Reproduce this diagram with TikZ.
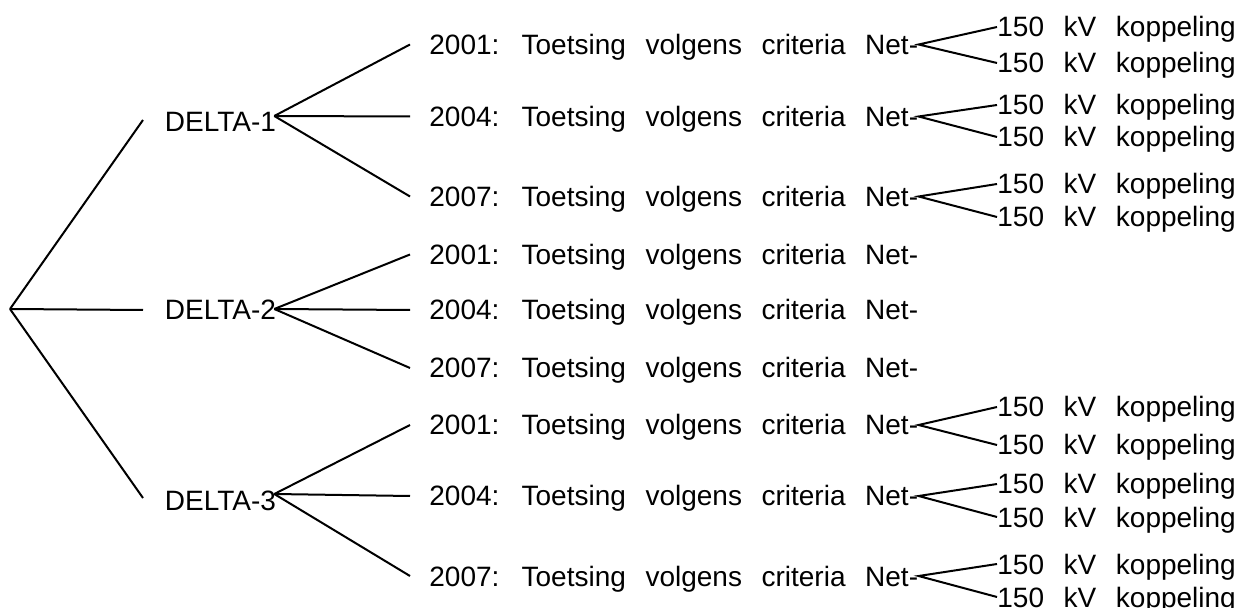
\documentclass[tikz,border=0pt]{standalone}
\usepackage{fontspec}
\setmainfont{Liberation Sans}

\newcommand\widespaces{\spaceskip=0.7em\relax}
\tikzset{
  lbl/.style={anchor=west, inner sep=0pt, text height=10pt, text depth=0pt,
    font=\fontsize{14}{17}\selectfont, execute at begin node=\widespaces},
  branch/.style={line width=1pt},
}

\begin{document}
\begin{tikzpicture}[x=0.5pt, y=-0.5pt]
        \useasboundingbox (0,0) rectangle (1241,608);

        % Root and the three DELTA variants
        \coordinate (root) at (10,309);
        \foreach \i/\ly/\ty in {1/120/122, 2/310/310, 3/498/500} {
            \node[lbl] (d\i) at (164.5,\ty) {DELTA-\i};
            \coordinate (e\i) at (143,\ly);
            \draw[branch] (root) -- (e\i);
        }
        \coordinate (v1) at ([shift={(-2,-6)}]d1.east);
        \coordinate (v2) at ([shift={(-2,-1)}]d2.east);
        \coordinate (v3) at ([shift={(-2,-6)}]d3.east);

        % Years per variant
        \foreach \grp/\ya/\yb/\yc in {1/44.5/116.5/196.5, 2/254.5/310/368, 3/425/496/576} {
            \foreach \yr/\yy in {2001/\ya, 2004/\yb, 2007/\yc} {
                \node[lbl] (y\grp-\yr) at (429,\yy) {\yr: Toetsing volgens criteria Net-};
                \draw[branch] (v\grp) -- ([xshift=-9.5pt]y\grp-\yr.west);
            }
        }

        % 150 kV couplings
        \foreach \grp/\yr/\ka/\kb in {1/2001/27/63, 1/2004/105/137, 1/2007/184/217,
                                      3/2001/407/445, 3/2004/484/517, 3/2007/564/597} {
            \node[lbl] (k\grp-\yr-a) at (997,\ka) {150 kV koppeling};
            \node[lbl] (k\grp-\yr-b) at (997,\kb) {150 kV koppeling};
            \draw[branch] (k\grp-\yr-a.west) -- (y\grp-\yr.east) -- (k\grp-\yr-b.west);
        }
\end{tikzpicture}
\end{document}
